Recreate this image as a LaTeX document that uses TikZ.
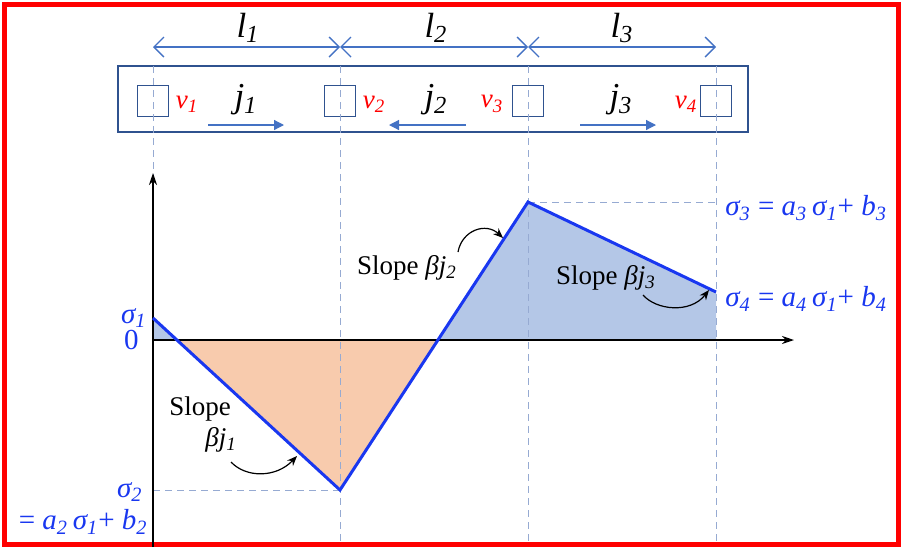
\documentclass[tikz,border=0pt]{standalone}
\usepackage{fontspec}
\setmainfont{Liberation Serif}
\usetikzlibrary{arrows.meta}
\definecolor{lineblue}{RGB}{25,55,240}
\definecolor{steelblue}{RGB}{68,114,196}
\definecolor{boxblue}{RGB}{47,82,143}
\definecolor{gridblue}{RGB}{150,170,210}
\definecolor{posfill}{RGB}{180,199,231}
\definecolor{negfill}{RGB}{248,203,173}
\newcommand{\ivar}[2]{{\itshape #1\textsubscript{#2}}}

\begin{document}
\begin{tikzpicture}[
          x=0.5pt, y=-0.5pt,
          cell/.style={
              draw=boxblue,
              line width=0.6pt,
              minimum size=15.5pt,
              inner sep=0pt
            },
          guide/.style={gridblue, dash pattern=on 3.5pt off 2.5pt, line width=0.5pt},
          dim/.style={{Straight Barb[length=5pt,width=10pt]}-{Straight Barb[length=5pt,width=10pt]}, steelblue, line width=0.7pt},
          flow/.style={-{Triangle[length=5pt,width=5pt]}, steelblue, line width=0.6pt},
          axis/.style={-{Stealth[length=6pt,width=4pt]}, black, line width=0.7pt},
          sigline/.style={lineblue, line width=1.5pt},
          note/.style={-{Stealth[length=5pt,width=4pt]}, black, line width=0.6pt},
          big/.style={font=\fontsize{17.5}{19}\selectfont\itshape},
          volt/.style={text=red, font=\fontsize{13.5}{15}\selectfont\itshape, inner sep=1pt},
          lbl/.style={font=\fontsize{13.5}{15}\selectfont, inner sep=1pt},
          val/.style={text=lineblue, font=\fontsize{14.5}{16}\selectfont, inner sep=1pt}
        ]
        \useasboundingbox (0,0) rectangle (903,547);
        \draw[red, line width=2.5pt] (4.5,4) rectangle (898.5,544);

        % wire with the four contacts
        \node[draw=boxblue, line width=0.75pt, minimum width=315pt, minimum height=33pt] (bar) at (433,99) {};
        \node[cell] (sq1) at (153,101) {};
        \node[cell] (sq2) at (340,101) {};
        \node[cell] (sq3) at (528,101) {};
        \node[cell] (sq4) at (716,101) {};
        \node[volt] (v1) at (187,104) {v\textsubscript{1}};
        \node[volt] (v2) at (374,104) {v\textsubscript{2}};
        \node[volt] (v3) at (492,104) {v\textsubscript{3}};
        \node[volt] (v4) at (686,104) {v\textsubscript{4}};
        \node[big] (j1) at (246,100) {j\textsubscript{1}};
        \node[big] (j2) at (436,100) {j\textsubscript{2}};
        \node[big] (j3) at (621,100) {j\textsubscript{3}};
        \coordinate (f1a) at (208,125); \coordinate (f1b) at (284,125);
        \coordinate (f2a) at (466,125); \coordinate (f2b) at (389,125);
        \coordinate (f3a) at (580,125); \coordinate (f3b) at (656,125);
        \draw[flow] (f1a) -- (f1b);
        \draw[flow] (f2a) -- (f2b);
        \draw[flow] (f3a) -- (f3b);

        % segment lengths
        \coordinate (t1) at (153,47);
        \coordinate (t2) at (340,47);
        \coordinate (t3) at (528,47);
        \coordinate (t4) at (716,47);
        \draw[dim] (t1) -- (t2);
        \draw[dim] (t2) -- (t3);
        \draw[dim] (t3) -- (t4);
        \node[big] (l1) at (248,28) {l\textsubscript{1}};
        \node[big] (l2) at (436,28) {l\textsubscript{2}};
        \node[big] (l3) at (622,28) {l\textsubscript{3}};

        % stress profile
        \coordinate (p1) at (153,318);
        \coordinate (p2) at (340,490);
        \coordinate (p3) at (528,202);
        \coordinate (p4) at (716,292);
        \coordinate (z1) at (177,340);
        \coordinate (z2) at (438,340);
        \coordinate (o) at (153,340);
        \coordinate (e4) at (716,340);
        \fill[posfill] (p1) -- (z1) -- (o) -- cycle;
        \fill[negfill] (z1) -- (p2) -- (z2) -- cycle;
        \fill[posfill] (z2) -- (p3) -- (p4) -- (e4) -- cycle;

        \foreach \gx in {340,528,716}
          \draw[guide] (\gx,66) -- (\gx,541);
        \draw[guide] (153,66) -- (153,175);
        \draw[guide] (o |- p2) -- (p2);
        \draw[guide] (p3) -- (p3 -| e4);

        \coordinate (ybot) at (153,547);
        \coordinate (ytop) at (153,173);
        \coordinate (xend) at (794,340);
        \draw[axis] (ybot) -- (ytop);
        \draw[axis] (o) -- (xend);

        \draw[sigline] (p1) -- (p2) -- (p3) -- (p4);

        % values
        \node[val, anchor=east] (s1) at (149,318) {\ivar{σ}{1}};
        \node[val, anchor=east] (zero) at (141,340) {0};
        \node[val, anchor=east] (s2) at (145,492) {\ivar{σ}{2}};
        \node[val, anchor=east] (s2eq) at (150,522) {= \ivar{a}{2}\,\ivar{σ}{1}+ \ivar{b}{2}};
        \node[val, anchor=west] (s3) at (723,208) {\ivar{σ}{3} = \ivar{a}{3}\,\ivar{σ}{1}+ \ivar{b}{3}};
        \node[val, anchor=west] (s4) at (723,299) {\ivar{σ}{4} = \ivar{a}{4}\,\ivar{σ}{1}+ \ivar{b}{4}};

        % slope notes
        \node[lbl] (slope1) at (200,409) {Slope};
        \node[lbl] (bj1) at (221,440) {\ivar{βj}{1}};
        \node[lbl] (slope2) at (407,268) {Slope \ivar{βj}{2}};
        \node[lbl] (slope3) at (606,278) {Slope \ivar{βj}{3}};
        \coordinate (n1a) at (231,462); \coordinate (n1b) at (297,456);
        \coordinate (n2a) at (458,252); \coordinate (n2b) at (503,238);
        \coordinate (n3a) at (643,295); \coordinate (n3b) at (709,290);
        \draw[note] (n1a) .. controls (246,478) and (276,478) .. (n1b);
        \draw[note] (n2a) .. controls (462,230) and (486,222) .. (n2b);
        \draw[note] (n3a) .. controls (656,310) and (690,314) .. (n3b);
      \end{tikzpicture}
\end{document}
